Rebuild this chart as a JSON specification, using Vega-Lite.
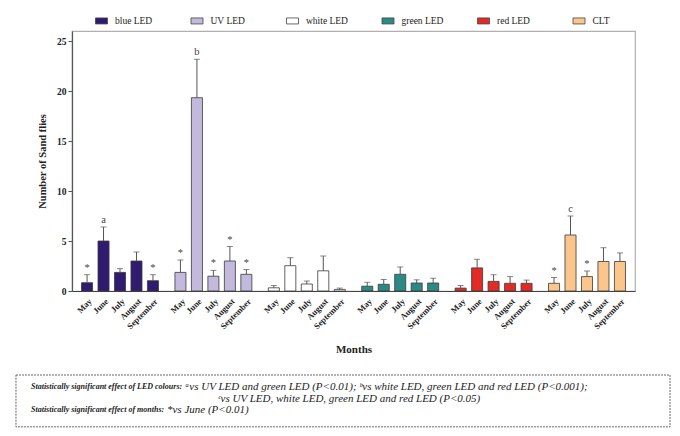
{
  "$schema": "https://vega.github.io/schema/vega-lite/v6.json",
  "background": "white",
  "padding": {"left": 15, "top": 14, "right": 5, "bottom": 5},
  "spacing": 84,
  "bounds": "flush",
  "config": {
    "font": "Liberation Serif, Times New Roman, serif",
    "view": {"stroke": "#b0b0b0", "strokeWidth": 1.2}
  },
  "datasets": {
    "sand": [
      {"led": "blue LED", "month": "May", "mean": 0.83, "upper": 1.63, "note": "*"},
      {"led": "blue LED", "month": "June", "mean": 5.0, "upper": 6.4, "note": "a"},
      {"led": "blue LED", "month": "July", "mean": 1.86, "upper": 2.24, "note": ""},
      {"led": "blue LED", "month": "August", "mean": 3.0, "upper": 3.9, "note": ""},
      {"led": "blue LED", "month": "September", "mean": 1.03, "upper": 1.63, "note": "*"},
      {"led": "UV LED", "month": "May", "mean": 1.86, "upper": 3.1, "note": "*"},
      {"led": "UV LED", "month": "June", "mean": 19.33, "upper": 23.17, "note": "b"},
      {"led": "UV LED", "month": "July", "mean": 1.48, "upper": 2.06, "note": "*"},
      {"led": "UV LED", "month": "August", "mean": 3.0, "upper": 4.45, "note": "*"},
      {"led": "UV LED", "month": "September", "mean": 1.67, "upper": 2.15, "note": "*"},
      {"led": "white LED", "month": "May", "mean": 0.32, "upper": 0.55, "note": ""},
      {"led": "white LED", "month": "June", "mean": 2.53, "upper": 3.33, "note": ""},
      {"led": "white LED", "month": "July", "mean": 0.7, "upper": 1.0, "note": ""},
      {"led": "white LED", "month": "August", "mean": 2.02, "upper": 3.5, "note": ""},
      {"led": "white LED", "month": "September", "mean": 0.16, "upper": 0.29, "note": ""},
      {"led": "green LED", "month": "May", "mean": 0.48, "upper": 0.87, "note": ""},
      {"led": "green LED", "month": "June", "mean": 0.67, "upper": 1.15, "note": ""},
      {"led": "green LED", "month": "July", "mean": 1.67, "upper": 2.4, "note": ""},
      {"led": "green LED", "month": "August", "mean": 0.8, "upper": 1.12, "note": ""},
      {"led": "green LED", "month": "September", "mean": 0.8, "upper": 1.28, "note": ""},
      {"led": "red LED", "month": "May", "mean": 0.29, "upper": 0.55, "note": ""},
      {"led": "red LED", "month": "June", "mean": 2.31, "upper": 3.17, "note": ""},
      {"led": "red LED", "month": "July", "mean": 0.96, "upper": 1.63, "note": ""},
      {"led": "red LED", "month": "August", "mean": 0.77, "upper": 1.44, "note": ""},
      {"led": "red LED", "month": "September", "mean": 0.77, "upper": 1.09, "note": ""},
      {"led": "CLT", "month": "May", "mean": 0.77, "upper": 1.35, "note": "*"},
      {"led": "CLT", "month": "June", "mean": 5.6, "upper": 7.5, "note": "c"},
      {"led": "CLT", "month": "July", "mean": 1.44, "upper": 1.99, "note": "*"},
      {"led": "CLT", "month": "August", "mean": 2.95, "upper": 4.33, "note": ""},
      {"led": "CLT", "month": "September", "mean": 2.95, "upper": 3.81, "note": ""}
    ],
    "notes": [
      {"line": 1, "part": "bold", "text": "Statistically significant effect of LED colours:"},
      {"line": 1, "part": "rest", "text": "ᵃvs UV LED and green LED (P<0.01); ᵇvs white LED,  green LED and red LED (P<0.001);"},
      {"line": 2, "part": "center", "text": "ᶜvs UV LED, white LED, green LED and red LED (P<0.05)"},
      {"line": 3, "part": "bold", "text": "Statistically significant effect of months:"},
      {"line": 3, "part": "rest", "text": "*vs June (P<0.01)"}
    ],
    "box": [
      {"name": "footnote"}
    ]
  },
  "vconcat": [
    {
      "width": 563,
      "height": 260,
      "data": {"name": "sand"},
      "encoding": {
        "x": {
          "field": "led",
          "type": "nominal",
          "sort": ["blue LED", "UV LED", "white LED", "green LED", "red LED", "CLT"],
          "scale": {"paddingInner": 0.176, "paddingOuter": 0.102},
          "axis": {
            "labels": false,
            "ticks": false,
            "title": "Months",
            "titleFont": "Liberation Serif, Times New Roman, serif",
            "titleFontSize": 11,
            "titleFontWeight": "bold",
            "titleColor": "#222",
            "titlePadding": 52,
            "domainColor": "#444",
            "domainWidth": 1.2
          }
        },
        "xOffset": {
          "field": "month",
          "type": "nominal",
          "sort": ["May", "June", "July", "August", "September"],
          "scale": {"paddingInner": 0.33, "paddingOuter": 0}
        }
      },
      "layer": [
        {
          "mark": {"type": "bar", "stroke": "#3a3a3a", "strokeWidth": 0.8},
          "encoding": {
            "y": {
              "field": "mean",
              "type": "quantitative",
              "scale": {"domain": [0, 25]},
              "axis": {
                "values": [0, 5, 10, 15, 20, 25],
                "grid": false,
                "title": "Number of Sand flies",
                "titleFont": "Liberation Serif, Times New Roman, serif",
                "titleFontSize": 10.5,
                "titleFontWeight": "bold",
                "titleColor": "#222",
                "titlePadding": 9,
                "labelFont": "Liberation Serif, Times New Roman, serif",
                "labelFontSize": 9.5,
                "labelFontWeight": "bold",
                "labelColor": "#222",
                "labelPadding": 2,
                "tickSize": 4,
                "tickColor": "#555",
                "domainColor": "#555",
                "domainWidth": 1.2
              }
            },
            "fill": {
              "field": "led",
              "type": "nominal",
              "sort": ["blue LED", "UV LED", "white LED", "green LED", "red LED", "CLT"],
              "scale": {
                "domain": ["blue LED", "UV LED", "white LED", "green LED", "red LED", "CLT"],
                "range": ["#2f1b70", "#c3b9dd", "#ffffff", "#2b8a86", "#e12b26", "#fbc68b"]
              },
              "legend": {
                "title": null,
                "orient": "none",
                "legendX": 23,
                "legendY": -17,
                "direction": "horizontal",
                "columns": 6,
                "gridAlign": "all",
                "columnPadding": 31.5,
                "symbolType": "M-1,-0.5H1V0.5H-1Z",
                "symbolSize": 144,
                "symbolStrokeColor": "#444",
                "symbolStrokeWidth": 0.8,
                "symbolOpacity": 1,
                "labelFont": "Liberation Serif, Times New Roman, serif",
                "labelFontSize": 9.5,
                "labelColor": "#222",
                "labelOffset": 7,
                "padding": 0
              }
            }
          }
        },
        {
          "mark": {"type": "rule", "color": "#555", "strokeWidth": 1},
          "encoding": {
            "y": {"field": "mean", "type": "quantitative"},
            "y2": {"field": "upper"}
          }
        },
        {
          "mark": {"type": "tick", "color": "#555", "thickness": 1, "size": 6, "orient": "horizontal"},
          "encoding": {
            "y": {"field": "upper", "type": "quantitative"}
          }
        },
        {
          "mark": {"type": "text", "baseline": "bottom", "dy": -2, "fontSize": 10.5, "color": "#444", "font": "Liberation Serif, Times New Roman, serif"},
          "encoding": {
            "y": {"field": "upper", "type": "quantitative"},
            "text": {"field": "note"}
          }
        },
        {
          "mark": {"type": "text", "angle": 315, "align": "right", "baseline": "middle", "dx": -4, "dy": 8.5, "fontSize": 8.5, "fontWeight": "bold", "color": "#222", "font": "Liberation Serif, Times New Roman, serif"},
          "encoding": {
            "y": {"datum": 0, "type": "quantitative"},
            "text": {"field": "month"}
          }
        }
      ]
    },
    {
      "width": 563,
      "height": 53,
      "view": {"stroke": null},
      "layer": [
        {
          "data": {"name": "box"},
          "mark": {"type": "rect", "fill": "white", "fillOpacity": 0, "stroke": "#666", "strokeDash": [2, 1], "strokeWidth": 1},
          "encoding": {
            "x": {"datum": -0.0995, "type": "quantitative", "scale": {"domain": [0, 1]}, "axis": null},
            "x2": {"datum": 1.0622},
            "y": {"datum": 0, "type": "quantitative", "scale": {"domain": [0, 4.4], "reverse": true}, "axis": null},
            "y2": {"datum": 4.4}
          }
        },
        {
          "data": {"name": "notes"},
          "transform": [{"filter": "datum.part == 'bold'"}],
          "mark": {"type": "text", "align": "left", "baseline": "middle", "dx": 15, "fontSize": 8, "fontStyle": "italic", "fontWeight": "bold", "color": "#222", "font": "Liberation Serif, Times New Roman, serif"},
          "encoding": {
            "x": {"datum": -0.0995, "type": "quantitative"},
            "y": {"field": "line", "type": "quantitative"},
            "text": {"field": "text"}
          }
        },
        {
          "data": {"name": "notes"},
          "transform": [{"filter": "datum.line == 1 && datum.part == 'rest'"}],
          "mark": {"type": "text", "align": "left", "baseline": "middle", "dx": 169, "fontSize": 11, "fontStyle": "italic", "color": "#222", "font": "Liberation Serif, Times New Roman, serif"},
          "encoding": {
            "x": {"datum": -0.0995, "type": "quantitative"},
            "y": {"field": "line", "type": "quantitative"},
            "text": {"field": "text"}
          }
        },
        {
          "data": {"name": "notes"},
          "transform": [{"filter": "datum.line == 3 && datum.part == 'rest'"}],
          "mark": {"type": "text", "align": "left", "baseline": "middle", "dx": 151, "fontSize": 11, "fontStyle": "italic", "color": "#222", "font": "Liberation Serif, Times New Roman, serif"},
          "encoding": {
            "x": {"datum": -0.0995, "type": "quantitative"},
            "y": {"field": "line", "type": "quantitative"},
            "text": {"field": "text"}
          }
        },
        {
          "data": {"name": "notes"},
          "transform": [{"filter": "datum.part == 'center'"}],
          "mark": {"type": "text", "align": "center", "baseline": "middle", "fontSize": 11, "fontStyle": "italic", "color": "#222", "font": "Liberation Serif, Times New Roman, serif"},
          "encoding": {
            "x": {"datum": 0.492, "type": "quantitative"},
            "y": {"field": "line", "type": "quantitative"},
            "text": {"field": "text"}
          }
        }
      ]
    }
  ]
}
